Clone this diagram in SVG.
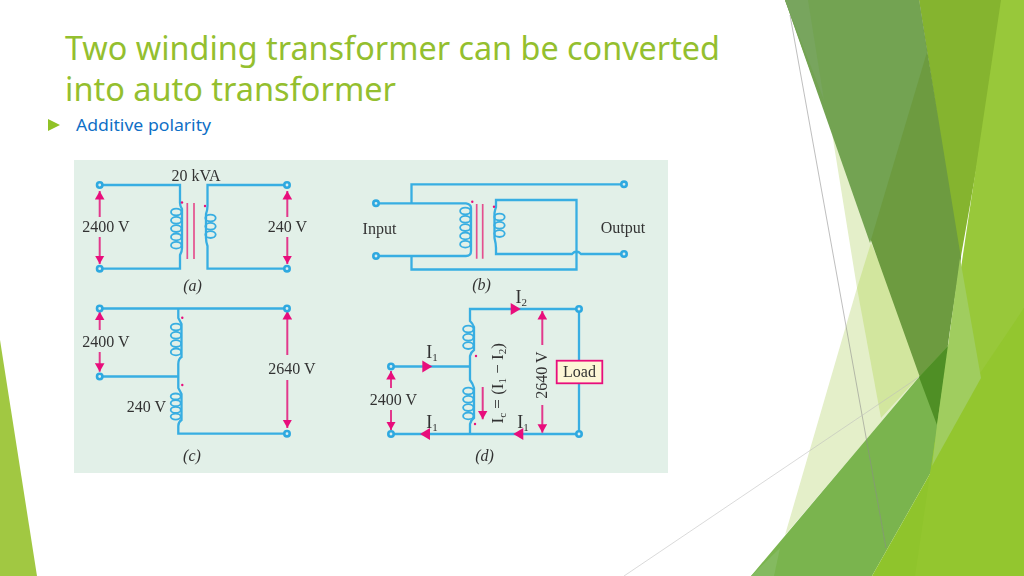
<svg xmlns="http://www.w3.org/2000/svg" xmlns:xlink="http://www.w3.org/1999/xlink" width="1024" height="576" viewBox="0 0 1024 576">
<style>
.title{font-family:"Noto Sans","DejaVu Sans",sans-serif;font-size:33px;fill:#94bf2f}
.bul{font-family:"Noto Sans","DejaVu Sans",sans-serif;font-size:16.5px;fill:#0f6fc6}
.t{font-family:"Liberation Serif",serif;font-size:16px;fill:#333}
.i{font-size:18px}
.s{font-size:11px}
.w{fill:none;stroke:#37aee2;stroke-width:2.3}
.l{fill:none;stroke:#37aee2;stroke-width:1.8}
.a{fill:none;stroke:#e2398c;stroke-width:2}
.h{fill:#e8107c}
.core{stroke:#e4508f;stroke-width:1.7;fill:none}
.term{fill:#d9eef0;stroke:#2fa9e0;stroke-width:2.6}
.dot{fill:#e8107c}
</style>
<defs>
<filter id="soft" x="0" y="0" width="1" height="1"><feGaussianBlur stdDeviation="0.4"/></filter>
<marker id="ah" markerUnits="userSpaceOnUse" markerWidth="10" markerHeight="10" refX="8.5" refY="5" orient="auto"><path d="M0 0.2L8.5 5L0 9.8Z" fill="#e8107c"/></marker>
<g id="c3"><ellipse cx="0" cy="0" rx="5.2" ry="3.4"/><ellipse cx="0" cy="8.3" rx="5.2" ry="3.4"/><ellipse cx="0" cy="16.6" rx="5.2" ry="3.4"/></g>
<g id="c4"><use xlink:href="#c3"/><ellipse cx="0" cy="24.9" rx="5.2" ry="3.4"/></g>
<g id="c5"><use xlink:href="#c4"/><ellipse cx="0" cy="33.2" rx="5.2" ry="3.4"/></g>
</defs>

<g id="background">
<polygon points="0,340 37,576 0,576" fill="#a1c842"/>
<polygon points="832,133 900,300 919,377 866,440 785,535 857,288" fill="#e4efc9"/>
<polygon points="871,243 925,370 881,418 857,288" fill="#d2e69e"/>
<polygon points="919,0 1006,0 960,262" fill="#85b42f"/>
<polygon points="785,0 919,0 961,258 950,330 937,425" fill="#6d9b40"/>
<polygon points="785,0 919,0 927,52 870,243" fill="#73a352"/>
<polygon points="785,0 808,0 824,100" fill="#78a55e"/>
<polygon points="751,576 919,377 949,345 1024,258 1024,308 872,576" fill="#7ab44e"/>
<polygon points="751,576 780,548 774,576" fill="#84ba60"/>
<polygon points="919,377 949,345 937,425" fill="#4f8f25"/>
<polygon points="1001,0 1024,0 1024,576 915,576" fill="#98c83a"/>
<polygon points="872,576 1024,308 1024,576" fill="#8fc42c"/>
<polygon points="915,576 935,440 1024,308 1024,576" fill="#93c62f"/>
<polygon points="960,258 981,378 932,466 937,425" fill="#a0cd5f"/>
<path d="M790 15L886 548" stroke="#8a8a8a" stroke-width="0.7" fill="none" opacity="0.8"/>
<path d="M624 576L919 377" stroke="#bdbdbd" stroke-width="0.7" fill="none" opacity="0.8"/>
</g>

<g id="heading">
<text class="title" x="65" y="60" textLength="655" lengthAdjust="spacingAndGlyphs">Two winding transformer can be converted</text>
<text class="title" x="65" y="101" textLength="331" lengthAdjust="spacingAndGlyphs">into auto transformer</text>
<polygon points="48,119 60,125 48,131" fill="#90c226"/>
<text class="bul" x="76" y="130.5" textLength="135" lengthAdjust="spacingAndGlyphs">Additive polarity</text>
</g>

<g id="figure" filter="url(#soft)">
<rect id="panel" x="74" y="160" width="594" height="313" fill="#e2f0e8"/>

<g id="connectors">
<path class="w" d="M100 185H180V203Q180 206 182 209V248Q182 252 180 255V268.7H100"/>
<path class="w" d="M287 185H207.5V206Q207.5 210 206 214V238Q206 242 207.5 246V268.7H287"/>
<path class="a" d="M99.7 217V191" marker-end="url(#ah)"/><path class="a" d="M99.7 237V264" marker-end="url(#ah)"/>
<path class="a" d="M287.3 217V191" marker-end="url(#ah)"/><path class="a" d="M287.3 237V264" marker-end="url(#ah)"/>
<path class="w" d="M411.5 203V184.3H624"/>
<path class="w" d="M376 203.3H466Q471 204 471 208V251Q471 256 466 256H376"/>
<path class="w" d="M411.5 256V269.5H576.5V200H496V207Q495 210 494.5 213V238Q496 244 496 248V254H572Q576.5 249 581 254H624"/>
<path class="w" d="M100 308.5H287"/>
<path class="w" d="M178.3 308.5V318Q180 321 181.5 324V357Q178.3 359 178.3 364V388Q180 391 181.5 394V420Q178.3 422 178.3 426V433.7H287"/>
<path class="w" d="M100 376.5H178.3"/>
<path class="a" d="M99.7 330V311.7" marker-end="url(#ah)"/><path class="a" d="M99.7 352V371.7" marker-end="url(#ah)"/>
<path class="a" d="M287.3 355V311" marker-end="url(#ah)"/><path class="a" d="M287.3 380V428" marker-end="url(#ah)"/>
<path class="w" d="M579 309H470V321Q473 324 474 327V350Q471 352 470 356V380Q473 384 474 388V418Q471 420 470 424V434"/>
<path class="w" d="M391 366.5H470"/>
<path class="w" d="M391 434H579V309"/>
<path class="a" d="M391 388V371" marker-end="url(#ah)"/><path class="a" d="M391 410V430" marker-end="url(#ah)"/>
<path class="a" d="M482.7 387V419.3" marker-end="url(#ah)"/>
<path class="a" d="M542.3 345V311" marker-end="url(#ah)"/><path class="a" d="M542.3 405V432.7" marker-end="url(#ah)"/>
<polygon class="h" points="510.7,303 520.7,309 510.7,315"/>
<polygon class="h" points="422.3,360.5 432.3,366.5 422.3,372.5"/>
<polygon class="h" points="430,428 420,434 430,440"/>
<polygon class="h" points="523.3,428 513.3,434 523.3,440"/>
</g>

<g id="transformer-a">
<use class="l" xlink:href="#c5" x="176.2" y="212"/>
<use class="l" xlink:href="#c3" x="210.5" y="218"/>
<path class="core" d="M187.3 203V259M194 203V259"/>
<circle class="dot" cx="182" cy="202.5" r="1.2"/><circle class="dot" cx="205" cy="206" r="1.2"/>
</g>
<g id="transformer-b">
<use class="l" xlink:href="#c5" x="465.3" y="211"/>
<use class="l" xlink:href="#c3" x="499.5" y="217"/>
<path class="core" d="M476.7 204V258.7M482.7 204V258.7"/>
<circle class="dot" cx="472.3" cy="201.7" r="1.2"/><circle class="dot" cx="494" cy="206.7" r="1.2"/>
</g>
<g id="transformer-c">
<use class="l" xlink:href="#c4" x="176" y="327"/>
<ellipse class="l" cx="175.7" cy="396.5" rx="5" ry="3"/><ellipse class="l" cx="175.7" cy="403.2" rx="5" ry="3"/><ellipse class="l" cx="175.7" cy="409.9" rx="5" ry="3"/><ellipse class="l" cx="175.7" cy="416.6" rx="5" ry="3"/>
<circle class="dot" cx="182.3" cy="317.7" r="1.2"/><circle class="dot" cx="182.3" cy="385" r="1.2"/>
</g>
<g id="transformer-d">
<use class="l" xlink:href="#c3" x="468.3" y="329"/>
<use class="l" xlink:href="#c4" x="468.3" y="391"/>
<circle class="dot" cx="476" cy="356" r="1.2"/><circle class="dot" cx="475" cy="424" r="1.2"/>
</g>

<g id="terminals">
<circle class="term" cx="99.7" cy="185" r="2.7"/><circle class="term" cx="287" cy="185" r="2.7"/>
<circle class="term" cx="99.7" cy="268.7" r="2.7"/><circle class="term" cx="287" cy="268.7" r="2.7"/>
<circle class="term" cx="376" cy="203.3" r="2.7"/><circle class="term" cx="376" cy="256" r="2.7"/>
<circle class="term" cx="624" cy="184.3" r="2.7"/><circle class="term" cx="624" cy="254" r="2.7"/>
<circle class="term" cx="99.7" cy="308.5" r="2.7"/><circle class="term" cx="287" cy="308.5" r="2.7"/>
<circle class="term" cx="99.7" cy="376.5" r="2.7"/><circle class="term" cx="287" cy="433.7" r="2.7"/>
<circle class="term" cx="579" cy="309" r="2.7"/><circle class="term" cx="579" cy="434" r="2.7"/>
<circle class="term" cx="391" cy="366.5" r="2.7"/><circle class="term" cx="391" cy="434" r="2.7"/>
</g>

<g id="load">
<rect x="556.7" y="360.7" width="45.6" height="22.6" fill="#fdf6d6" stroke="#e8107c" stroke-width="1.8"/>
<text class="t" x="579.5" y="377.3" text-anchor="middle">Load</text>
</g>

<g id="labels">
<text class="t" x="196" y="180.7" text-anchor="middle">20 kVA</text>
<text class="t" x="106" y="232" text-anchor="middle">2400 V</text>
<text class="t" x="287.5" y="232" text-anchor="middle">240 V</text>
<text class="t" x="192.5" y="291" text-anchor="middle" font-style="italic">(a)</text>
<text class="t" x="379.5" y="234" text-anchor="middle">Input</text>
<text class="t" x="623" y="233" text-anchor="middle">Output</text>
<text class="t" x="481.5" y="290" text-anchor="middle" font-style="italic">(b)</text>
<text class="t" x="106" y="347.3" text-anchor="middle">2400 V</text>
<text class="t" x="292" y="374" text-anchor="middle">2640 V</text>
<text class="t" x="146.5" y="411.7" text-anchor="middle">240 V</text>
<text class="t" x="192" y="460.7" text-anchor="middle" font-style="italic">(c)</text>
<text class="t" x="393.5" y="405" text-anchor="middle">2400 V</text>
<text class="t" x="484.5" y="460.7" text-anchor="middle" font-style="italic">(d)</text>
<text class="t i" x="515.5" y="303">I<tspan class="s" dy="3">2</tspan></text>
<text class="t i" x="426.3" y="358.3">I<tspan class="s" dy="3">1</tspan></text>
<text class="t i" x="426.3" y="427.8">I<tspan class="s" dy="3">1</tspan></text>
<text class="t i" x="517.3" y="427.8">I<tspan class="s" dy="3">1</tspan></text>
<text class="t" transform="translate(547.3 375) rotate(-90)" text-anchor="middle">2640 V</text>
<text class="t" font-size="17" style="font-size:17px" transform="translate(502.7 423.5) rotate(-90)">I<tspan class="s" dy="3">c</tspan><tspan dy="-3"> = (I</tspan><tspan class="s" dy="3">1</tspan><tspan dy="-3"> − I</tspan><tspan class="s" dy="3">2</tspan><tspan dy="-3">)</tspan></text>
</g>
</g>
</svg>
